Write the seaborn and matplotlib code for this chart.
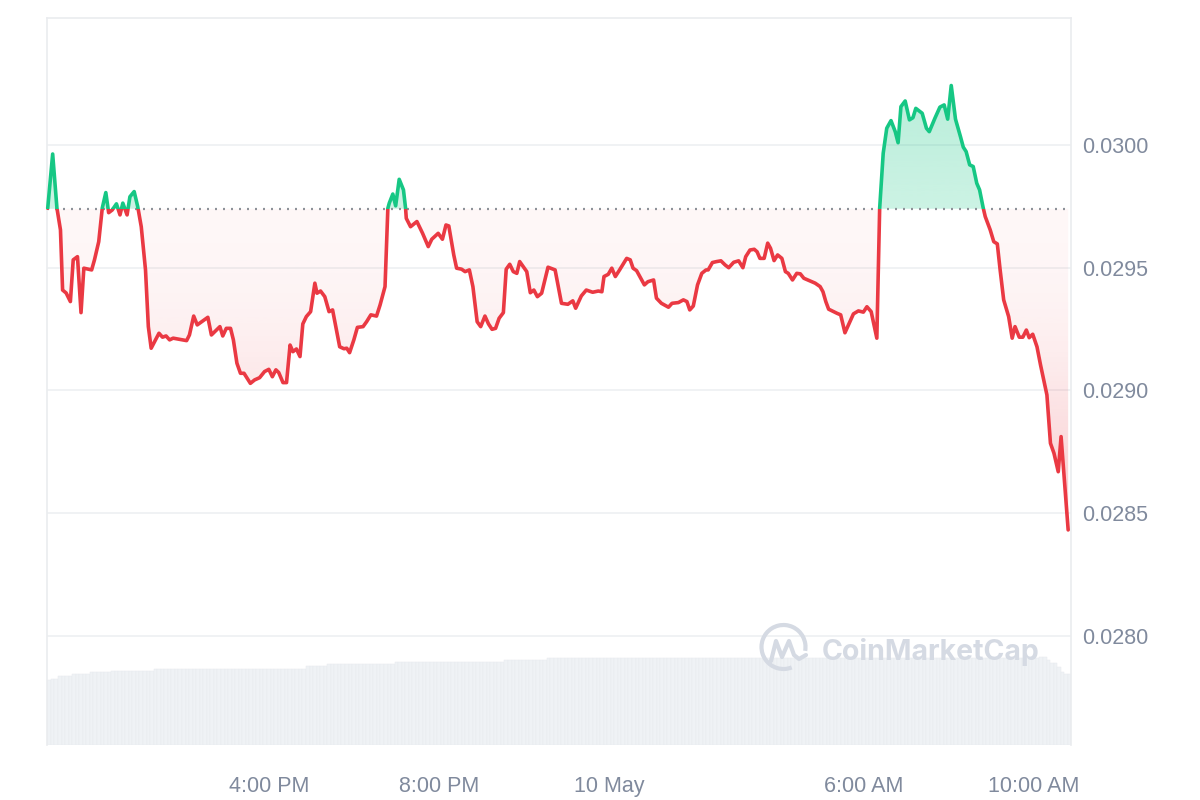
import numpy as np
import pandas as pd
import matplotlib
matplotlib.use('Agg')
import matplotlib.pyplot as plt
import matplotlib.dates as mdates
from matplotlib.colors import to_rgb
from matplotlib.patches import Rectangle, Arc, PathPatch
from matplotlib.path import Path
from matplotlib.ticker import FormatStrFormatter
import seaborn as sns

# minutes relative to 00:00, 10 May
minutes = [-792, -785, -779, -774, -771, -766, -760, -756, -750, -745, -741, -730, -726, -720, -715,
           -710, -706, -701, -695, -690, -686, -680, -676, -670, -665, -660, -654, -650, -646, -635,
           -630, -625, -620, -615, -596, -592, -586, -581, -566, -561, -549, -545, -540, -534, -530,
           -525, -520, -515, -506, -500, -493, -486, -480, -475, -470, -466, -460, -455, -450, -446,
           -441, -436, -432, -427, -421, -415, -412, -407, -401, -395, -390, -380, -374, -370, -366,
           -360, -355, -347, -342, -336, -328, -323, -316, -312, -310, -305, -301, -296, -290, -287,
           -286, -280, -271, -263, -255, -250, -241, -235, -230, -226, -219, -215, -208, -203, -197,
           -192, -186, -181, -175, -170, -165, -160, -155, -149, -145, -140, -135, -130, -126, -116,
           -111, -106, -101, -95, -86, -76, -67, -58, -51, -47, -39, -32, -23, -15, -10,
           -7, -1, 4, 9, 15, 25, 30, 34, 39, 50, 55, 63, 67, 74, 84,
           89, 98, 105, 110, 114, 119, 125, 131, 137, 140, 146, 152, 158, 164, 169,
           176, 183, 189, 193, 199, 205, 209, 213, 219, 224, 228, 233, 238, 244, 249,
           253, 259, 265, 270, 275, 284, 291, 298, 302, 306, 310, 317, 322, 327, 333,
           340, 345, 352, 359, 364, 370, 374, 378, 382, 387, 392, 398, 404, 408, 412,
           418, 424, 429, 433, 442, 448, 452, 460, 467, 473, 478, 483, 489, 496, 500,
           504, 509, 514, 519, 523, 528, 531, 538, 543, 548, 552, 557, 564, 569, 573,
           579, 584, 589, 593, 598, 604, 609, 613, 618, 623, 628, 634, 638, 648]

price = [0.029742, 0.029963, 0.029743, 0.029654, 0.029409, 0.029397, 0.029362, 0.029532, 0.029545, 0.029317,
         0.029498, 0.029491, 0.029532, 0.029606, 0.029743, 0.029806, 0.029724, 0.029735, 0.029760, 0.029715,
         0.029763, 0.029715, 0.029789, 0.029810, 0.029749, 0.029667, 0.029491, 0.029260, 0.029172, 0.029233,
         0.029217, 0.029222, 0.029206, 0.029213, 0.029203, 0.029226, 0.029303, 0.029267, 0.029298, 0.029226,
         0.029260, 0.029222, 0.029253, 0.029253, 0.029206, 0.029111, 0.029070, 0.029070, 0.029029, 0.029043,
         0.029052, 0.029077, 0.029086, 0.029056, 0.029084, 0.029073, 0.029032, 0.029032, 0.029185, 0.029158,
         0.029169, 0.029138, 0.029271, 0.029301, 0.029321, 0.029437, 0.029396, 0.029405, 0.029382, 0.029321,
         0.029328, 0.029178, 0.029170, 0.029172, 0.029154, 0.029206, 0.029257, 0.029260, 0.029280, 0.029308,
         0.029303, 0.029348, 0.029423, 0.029742, 0.029763, 0.029800, 0.029752, 0.029860, 0.029817, 0.029742,
         0.029701, 0.029667, 0.029688, 0.029640, 0.029586, 0.029616, 0.029640, 0.029616, 0.029674, 0.029670,
         0.029552, 0.029498, 0.029494, 0.029484, 0.029491, 0.029423, 0.029280, 0.029260, 0.029303, 0.029271,
         0.029249, 0.029253, 0.029294, 0.029317, 0.029494, 0.029514, 0.029484, 0.029477, 0.029525, 0.029484,
         0.029398, 0.029409, 0.029382, 0.029396, 0.029502, 0.029491, 0.029355, 0.029351, 0.029365, 0.029335,
         0.029385, 0.029409, 0.029400, 0.029405, 0.029402, 0.029464, 0.029473, 0.029498, 0.029464, 0.029491,
         0.029538, 0.029532, 0.029498, 0.029488, 0.029430, 0.029443, 0.029450, 0.029376, 0.029355, 0.029339,
         0.029355, 0.029358, 0.029369, 0.029362, 0.029328, 0.029344, 0.029430, 0.029477, 0.029491, 0.029491,
         0.029521, 0.029525, 0.029528, 0.029511, 0.029500, 0.029522, 0.029528, 0.029500, 0.029545, 0.029572,
         0.029575, 0.029565, 0.029538, 0.029538, 0.029600, 0.029579, 0.029529, 0.029552, 0.029538, 0.029484,
         0.029477, 0.029450, 0.029477, 0.029475, 0.029457, 0.029446, 0.029437, 0.029423, 0.029402, 0.029362,
         0.029331, 0.029321, 0.029314, 0.029308, 0.029235, 0.029280, 0.029312, 0.029324, 0.029319, 0.029341,
         0.029321, 0.029267, 0.029213, 0.029742, 0.029966, 0.030068, 0.030099, 0.030054, 0.030009, 0.030156,
         0.030179, 0.030102, 0.030111, 0.030149, 0.030129, 0.030068, 0.030054, 0.030109, 0.030154, 0.030163,
         0.030105, 0.030242, 0.030105, 0.030034, 0.029991, 0.029973, 0.029919, 0.029912, 0.029844, 0.029817,
         0.029745, 0.029708, 0.029654, 0.029606, 0.029597, 0.029491, 0.029369, 0.029301, 0.029213, 0.029260,
         0.029217, 0.029217, 0.029246, 0.029215, 0.029229, 0.029178, 0.029104, 0.029050, 0.028982, 0.028785,
         0.028744, 0.028669, 0.028812, 0.028432]

base_price = 0.02974  # price at the start of the window (dotted line)

# volume: 5-minute bars, levels and how many bars sit at each level
vol_start = -790
vol_levels = [65, 66.7, 69, 71, 73, 74.7, 76.7, 79, 81, 83, 85, 87, 88, 85, 82, 78, 73, 71]
vol_counts = [1, 2, 4, 5, 6, 12, 43, 6, 19, 31, 12, 139, 2, 1, 2, 1, 1, 2]

tick_minutes = [-480, -240, 0, 360, 600]
tick_labels = ['4:00 PM', '8:00 PM', '10 May', '6:00 AM', '10:00 AM']
y_ticks = [0.0280, 0.0285, 0.0290, 0.0295, 0.0300]
x_range = [-793, 652]
y_range = [0.027556, 0.030517]

assert len(minutes) == len(price)

day0 = pd.Timestamp('2024-05-10')
df = pd.DataFrame({'time': day0 + pd.to_timedelta(minutes, unit='min'), 'price': price})
vol = np.repeat(vol_levels, vol_counts)
vol_t = day0 + pd.to_timedelta(vol_start + 5 * np.arange(len(vol)), unit='min')

RED, GREEN, GREY = '#ea3943', '#16c784', '#808a9d'

sns.set_style('white')
plt.rcParams['font.family'] = ['Liberation Sans', 'DejaVu Sans']

fig = plt.figure(figsize=(12, 8), dpi=100)
rect = [47 / 1200, 55 / 800, 1024 / 1200, 727 / 800]
ax2 = fig.add_axes(rect)
ax = fig.add_axes(rect, sharex=ax2)
ax.patch.set_visible(False)

# volume bars behind
ax2.bar(vol_t, vol, width=5 / 1440, color='#eff2f5', edgecolor='#e7eaee', linewidth=0.35)
ax2.set_ylim(0, vol.max() * 8.3)
ax2.set_axis_off()

xnum = mdates.date2num(df['time'])
p = np.array(price)

# gradient fills below / above the start price
red_poly = ax.fill_between(df['time'], p, base_price, where=p < base_price, interpolate=True,
                           facecolor='none', edgecolor='none')
green_poly = ax.fill_between(df['time'], p, base_price, where=p > base_price, interpolate=True,
                             facecolor='none', edgecolor='none')

g = np.linspace(0, 1, 256)[:, None]
red_img = np.zeros((256, 1, 4))
red_img[..., :3] = to_rgb(RED)
red_img[..., 3] = 0.04 + 0.27 * (1 - g) ** 2
im = ax.imshow(red_img, extent=[xnum[0], xnum[-1], p.min(), base_price], origin='lower',
               aspect='auto', zorder=1, interpolation='bilinear')
im.set_clip_path(Path.make_compound_path(*red_poly.get_paths()), ax.transData)

green_img = np.zeros((256, 1, 4))
green_img[..., :3] = to_rgb(GREEN)
green_img[..., 3] = 0.22 + 0.08 * g
im = ax.imshow(green_img, extent=[xnum[0], xnum[-1], base_price, p.max()], origin='lower',
               aspect='auto', zorder=1, interpolation='bilinear')
im.set_clip_path(Path.make_compound_path(*green_poly.get_paths()), ax.transData)

# price line: red below start price, green above
for color, lo, hi in [(RED, -1, base_price), (GREEN, base_price, 1)]:
    sns.lineplot(data=df, x='time', y='price', ax=ax, color=color, lw=2.6, errorbar=None, zorder=3)
    clip = Rectangle((xnum[0] - 1, lo), xnum[-1] - xnum[0] + 2, hi - lo, transform=ax.transData)
    ax.lines[-1].set_clip_path(clip)

ax.axhline(base_price, color='#8d9299', lw=1.6, dashes=(0.9, 2.7), zorder=2)

ax.set_xlim(day0 + pd.Timedelta(minutes=x_range[0]), day0 + pd.Timedelta(minutes=x_range[1]))
ax.set_ylim(*y_range)
ax.set_xlabel('')
ax.set_ylabel('')

ax.set_yticks(y_ticks)
ax.yaxis.set_major_formatter(FormatStrFormatter('%.4f'))
ax.yaxis.tick_right()
ax.set_xticks(day0 + pd.to_timedelta(tick_minutes, unit='min'))
ax.set_xticklabels(tick_labels)
ax.tick_params(axis='y', length=0, pad=8, labelsize=15.5, labelcolor=GREY)
ax.tick_params(axis='x', length=0, pad=22, labelsize=15.5, labelcolor=GREY)
ax.grid(axis='y', color='#eff1f3', lw=1.3)
ax.grid(axis='x', visible=False)
ax.set_axisbelow(True)
for s in ['top', 'left', 'right']:
    ax.spines[s].set_color('#eaecef')
    ax.spines[s].set_linewidth(1.2)
ax.spines['bottom'].set_visible(False)

# CoinMarketCap watermark
wm = '#d5dae3'
fig.add_artist(Arc((783.5 / 1200, 1 - 647 / 800), 44 / 1200, 44 / 800, theta1=-15, theta2=285,
                   lw=3, color=wm, transform=fig.transFigure))
logo = [(771, 661), (776, 641), (782, 657), (789, 641), (794, 655), (799, 659), (806, 655)]
fig.add_artist(PathPatch(Path([(x / 1200, 1 - y / 800) for x, y in logo]), fill=False, lw=3,
                         edgecolor=wm, capstyle='round', joinstyle='round', transform=fig.transFigure))
fig.text(822 / 1200, 1 - 660 / 800, 'CoinMarketCap', fontsize=20.5, fontweight='bold', color=wm,
         family=['Inter', 'DejaVu Sans'], ha='left', va='baseline')

fig.savefig('out.png', dpi=100)
